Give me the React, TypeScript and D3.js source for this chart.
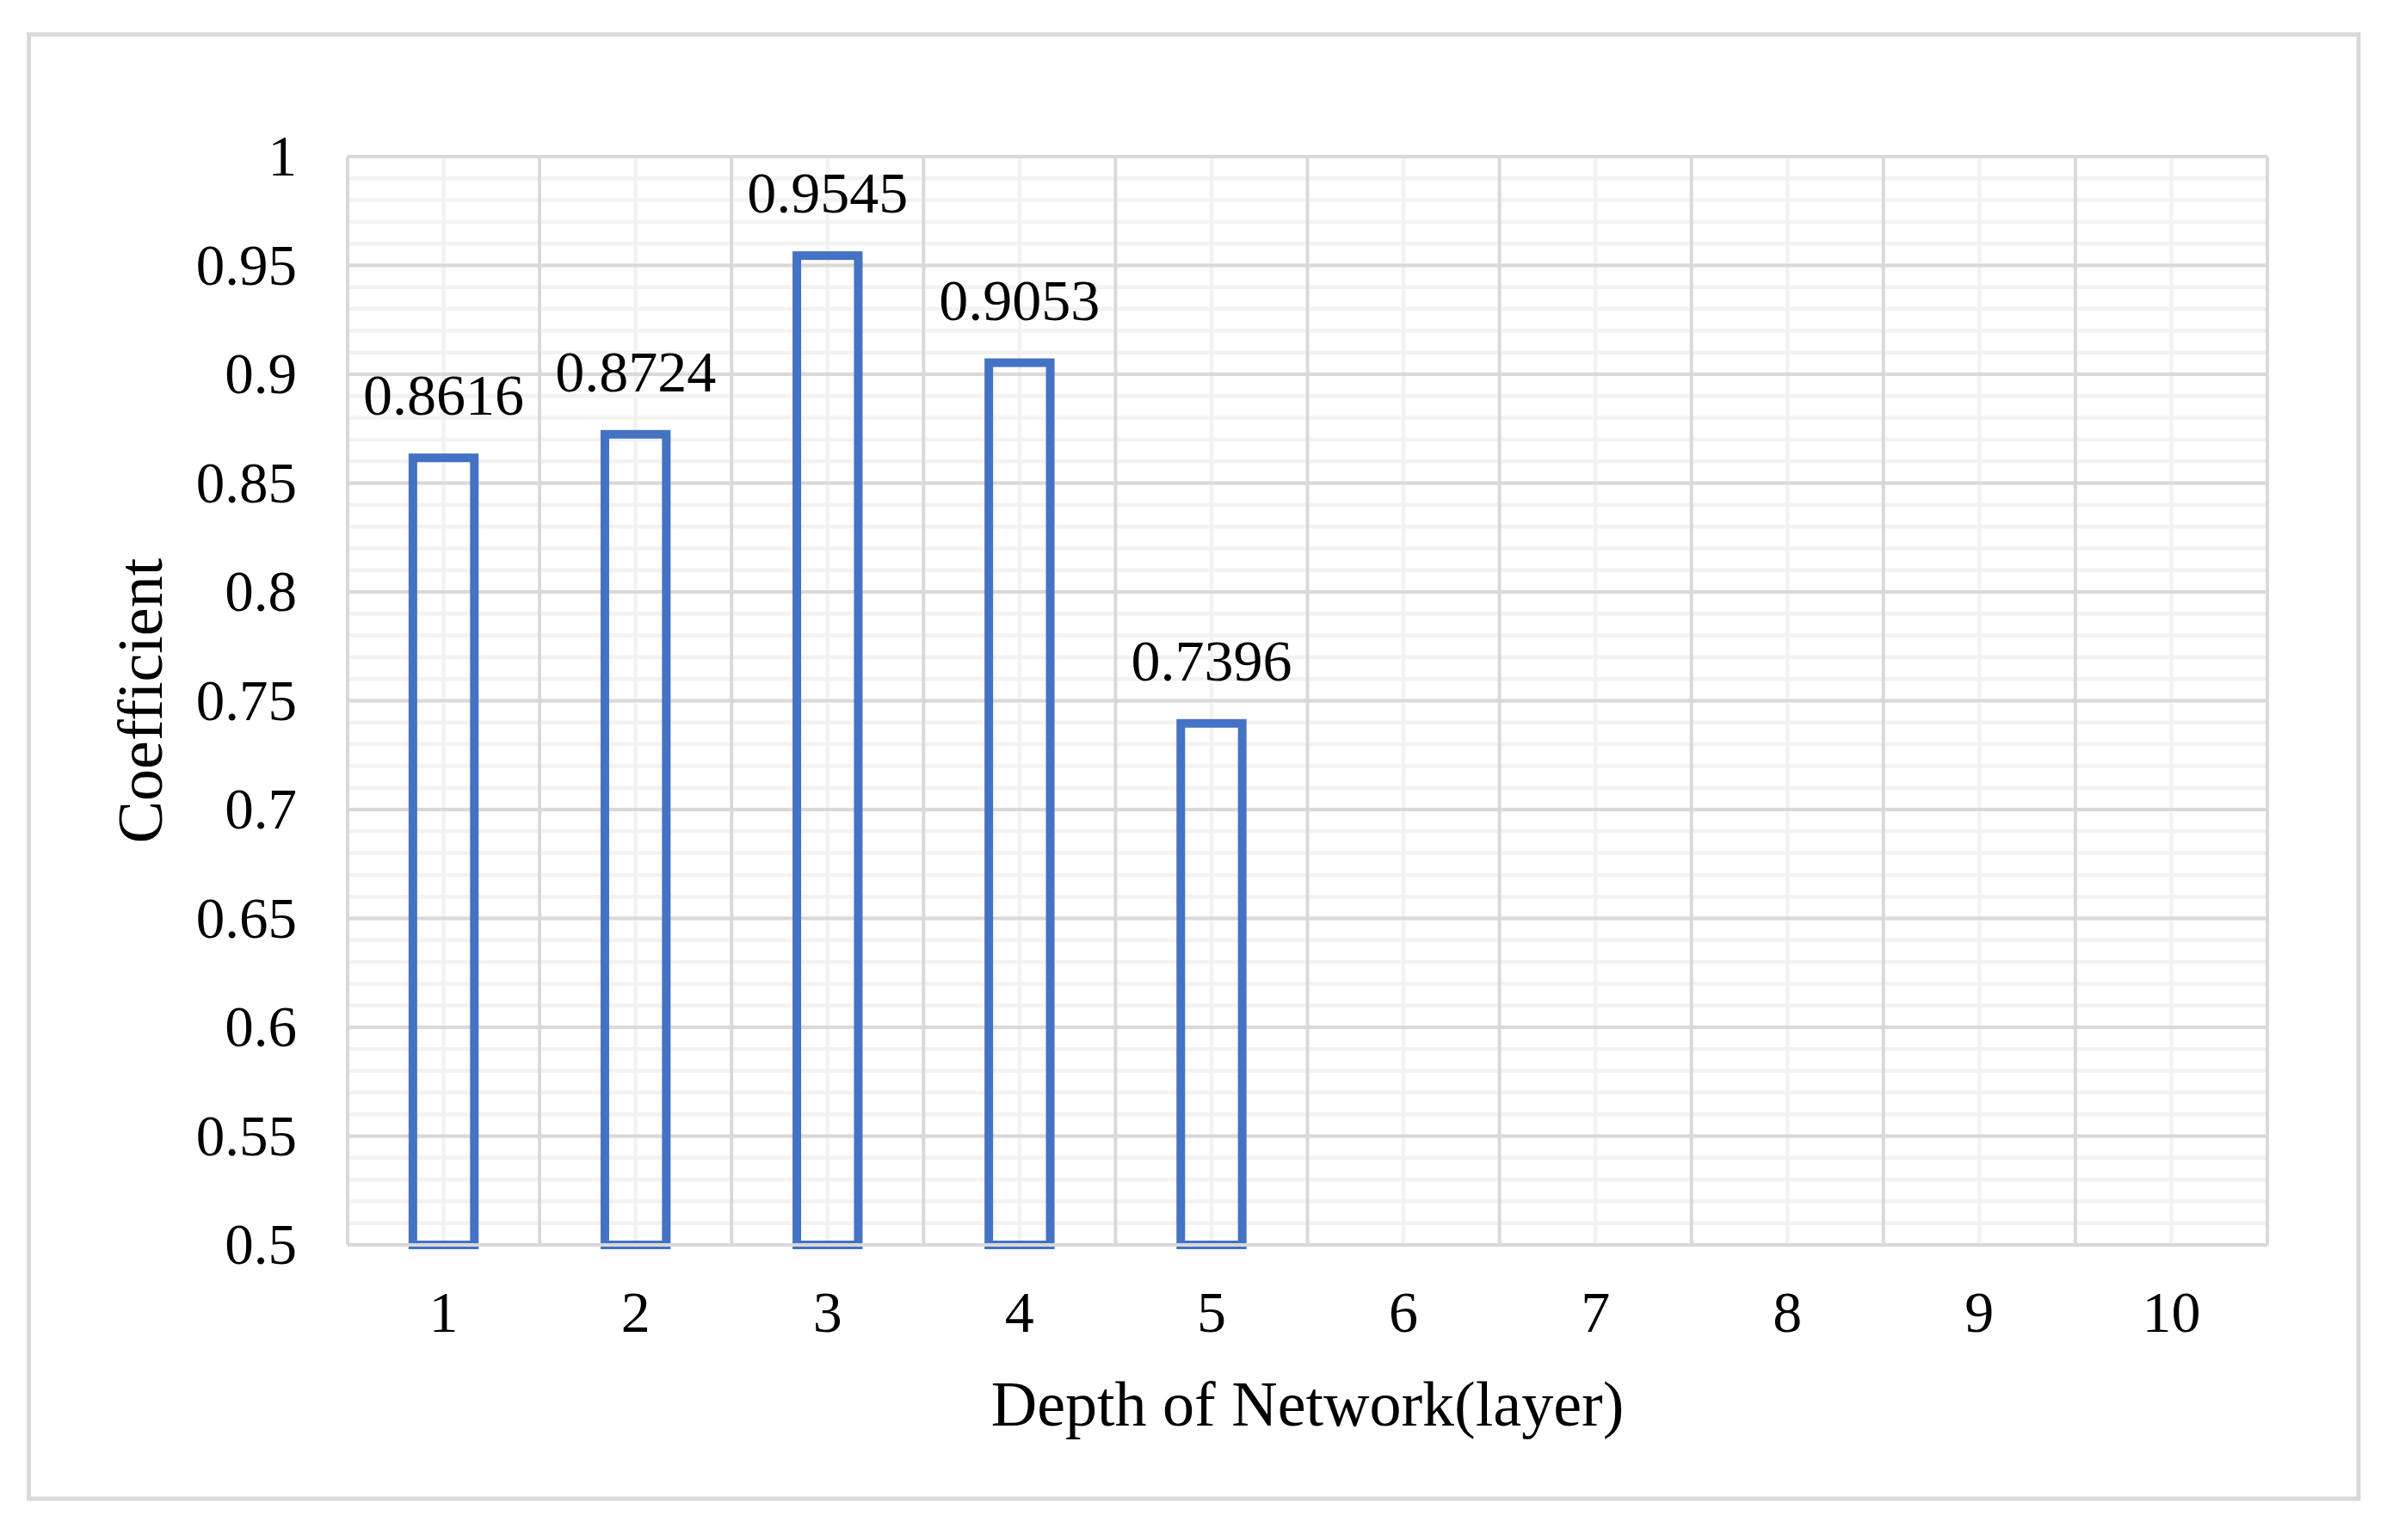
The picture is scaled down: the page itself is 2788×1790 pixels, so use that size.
import * as d3 from 'd3';

// chart values
const depths = ['1', '2', '3', '4', '5', '6', '7', '8', '9', '10'];
const coefficients = [0.8616, 0.8724, 0.9545, 0.9053, 0.7396];
const yTicks = [0.5, 0.55, 0.6, 0.65, 0.7, 0.75, 0.8, 0.85, 0.9, 0.95, 1];

const width = 2788;
const height = 1790;
const plot = { left: 404, right: 2635, top: 182, bottom: 1447 };
const font = '"Liberation Serif", "Times New Roman", serif';

const App = () => {
  const x = d3.scaleBand<string>().domain(depths).range([plot.left, plot.right]).padding(0);
  const y = d3.scaleLinear().domain([0.5, 1]).range([plot.bottom, plot.top]);
  const barW = x.bandwidth() * 0.32;
  const minorY = y.ticks(50);

  return (
    <svg width={width} height={height} style={{ position: 'absolute', left: 0, top: 0, background: '#fff' }}>
      <rect x={33.5} y={40} width={2741 - 33.5} height={1742 - 40} fill="#fff" stroke="#D9D9D9" strokeWidth={5} />

      {/* minor grid */}
      <g stroke="#F2F2F2" strokeWidth={4.5}>
        {minorY.map(t => (
          <line key={'my' + t} x1={plot.left} x2={plot.right} y1={y(t)} y2={y(t)} />
        ))}
        {depths.map(d => (
          <line key={'mx' + d} x1={x(d)! + x.bandwidth() / 2} x2={x(d)! + x.bandwidth() / 2} y1={plot.top} y2={plot.bottom} />
        ))}
      </g>

      {/* major grid */}
      <g stroke="#D9D9D9" strokeWidth={4}>
        {yTicks.map(t => (
          <line key={'y' + t} x1={plot.left} x2={plot.right} y1={y(t)} y2={y(t)} />
        ))}
        {depths.map(d => (
          <line key={'x' + d} x1={x(d)} x2={x(d)} y1={plot.top} y2={plot.bottom} />
        ))}
        <line x1={plot.right} x2={plot.right} y1={plot.top} y2={plot.bottom} />
      </g>

      {/* bars */}
      <g fill="none" stroke="#4472C4" strokeWidth={10}>
        {coefficients.map((v, i) => (
          <rect
            key={i}
            x={x(depths[i])! + (x.bandwidth() - barW) / 2}
            y={y(v)}
            width={barW}
            height={y(0.5) - y(v)}
          />
        ))}
      </g>

      {/* x axis line */}
      <line x1={plot.left} x2={plot.right} y1={plot.bottom} y2={plot.bottom} stroke="#D9D9D9" strokeWidth={4} />

      {/* value labels */}
      <g fontFamily={font} fontSize={68} textAnchor="middle" fill="#000">
        {coefficients.map((v, i) => (
          <text key={i} x={x(depths[i])! + x.bandwidth() / 2} y={y(v) - 50}>
            {v.toFixed(4)}
          </text>
        ))}
      </g>

      {/* y tick labels */}
      <g fontFamily={font} fontSize={67} textAnchor="end" fill="#000">
        {yTicks.map(t => (
          <text key={t} x={345} y={y(t) + 22}>
            {String(+t.toFixed(2))}
          </text>
        ))}
      </g>

      {/* x tick labels */}
      <g fontFamily={font} fontSize={68} textAnchor="middle" fill="#000">
        {depths.map(d => (
          <text key={d} x={x(d)! + x.bandwidth() / 2} y={1548}>
            {d}
          </text>
        ))}
      </g>

      {/* axis titles */}
      <text x={(plot.left + plot.right) / 2} y={1657} fontFamily={font} fontSize={74} textAnchor="middle">
        Depth of Network(layer)
      </text>
      <text
        transform={`translate(188, ${(plot.top + plot.bottom) / 2}) rotate(-90)`}
        fontFamily={font}
        fontSize={74}
        textAnchor="middle"
      >
        Coefficient
      </text>
    </svg>
  );
};

export default App;
